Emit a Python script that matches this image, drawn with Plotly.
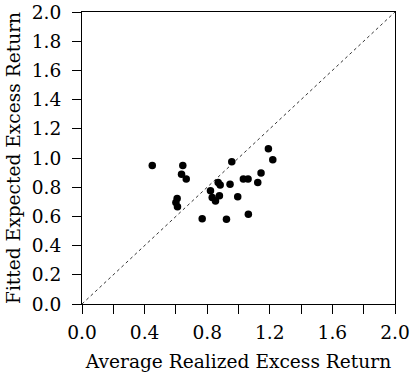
import plotly.graph_objects as go

realized = [0.449, 0.644, 0.636, 0.666, 0.608, 0.600, 0.610, 0.768, 0.821, 0.832,
            0.853, 0.878, 0.870, 0.883, 0.923, 0.957, 0.946, 0.995, 1.031, 1.061,
            1.063, 1.123, 1.144, 1.191, 1.219]
fitted = [0.949, 0.949, 0.888, 0.856, 0.723, 0.696, 0.666, 0.584, 0.776, 0.730,
          0.705, 0.742, 0.833, 0.815, 0.580, 0.974, 0.821, 0.735, 0.856, 0.856,
          0.614, 0.833, 0.897, 1.063, 0.988]
diag = [0.0, 2.0]
x_ticks = [0.0, 0.2, 0.4, 0.6, 0.8, 1.0, 1.2, 1.4, 1.6, 1.8, 2.0]
x_ticktext = ["0.0", "", "0.4", "", "0.8", "", "1.2", "", "1.6", "", "2.0"]
y_ticks = [0.0, 0.2, 0.4, 0.6, 0.8, 1.0, 1.2, 1.4, 1.6, 1.8, 2.0]

font = dict(family="DejaVu Serif", size=18.6, color="black")

fig = go.Figure()
fig.add_trace(go.Scatter(x=diag, y=diag, mode="lines",
                         line=dict(color="black", width=0.8, dash="3px,3px"),
                         hoverinfo="skip", showlegend=False))
fig.add_trace(go.Scatter(x=realized, y=fitted, mode="markers",
                         marker=dict(color="black", size=7.5), showlegend=False))

axis_common = dict(showgrid=False, zeroline=False, showline=True, linecolor="black",
                   linewidth=1, mirror=True, ticks="outside", ticklen=9, tickwidth=1,
                   tickcolor="black", range=[0, 2], tickfont=font, automargin=False)
fig.update_xaxes(**axis_common, tickvals=x_ticks, ticktext=x_ticktext,
                 ticklabelstandoff=3,
                 title=dict(text="Average Realized Excess Return", font=font, standoff=12))
fig.update_yaxes(**axis_common, tickvals=y_ticks, ticktext=[f"{v:.1f}" for v in y_ticks],
                 ticklabelstandoff=7,
                 title=dict(text="Fitted Expected Excess Return", font=font, standoff=6))
fig.update_layout(width=410, height=381, plot_bgcolor="white", paper_bgcolor="white",
                  margin=dict(l=82, r=15, t=12, b=77), font=font)
fig.write_html("out.html")
